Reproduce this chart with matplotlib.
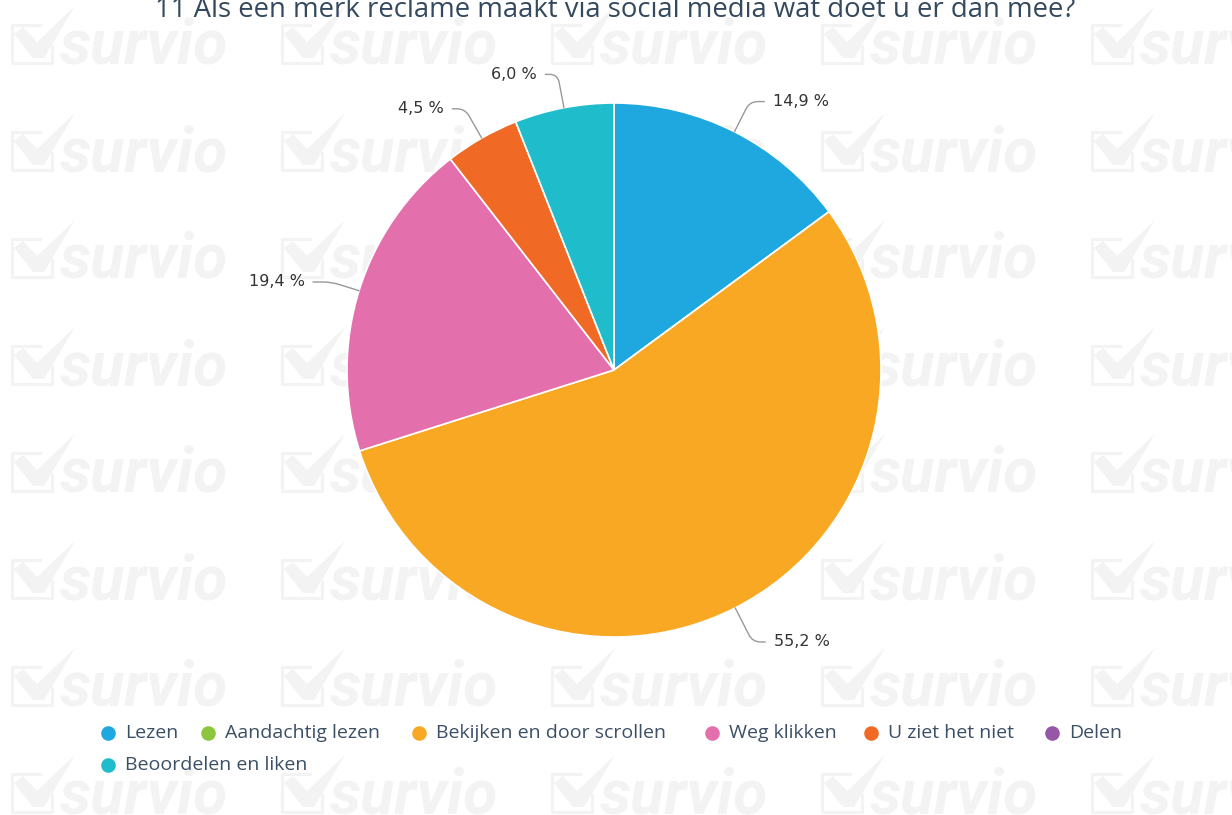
import matplotlib
matplotlib.use("Agg")
import numpy as np
import matplotlib.pyplot as plt
from matplotlib.patches import Polygon
from matplotlib.lines import Line2D

# survey answers, share of respondents in percent
categories = [
    "Lezen",
    "Aandachtig lezen",
    "Bekijken en door scrollen",
    "Weg klikken",
    "U ziet het niet",
    "Delen",
    "Beoordelen en liken",
]
shares = [14.9, 0.0, 55.2, 19.4, 4.5, 0.0, 6.0]
colors = ["#1fa8df", "#8cc63f", "#f9a823", "#e46fad", "#f06a25", "#9657a7", "#1fbccc"]
title = "11 Als een merk reclame maakt via social media wat doet u er dan mee?"

W, H = 1232, 815
fig = plt.figure(figsize=(W / 100, H / 100), dpi=100)
ax = fig.add_axes([0, 0, 1, 1])
ax.set_xlim(0, W)
ax.set_ylim(H, 0)  # pixel coords, y down
ax.set_aspect("equal")
ax.axis("off")

# background watermark tiles
wm = "#f3f3f3"
for row in range(8):
    yb = 64 + 107 * row
    for col in range(5):
        x0 = 10 + 270 * col
        ax.add_line(Line2D([x0 + 30, x0 + 2, x0 + 2, x0 + 42, x0 + 42],
                           [yb - 39, yb - 39, yb - 1, yb - 1, yb - 18],
                           color=wm, lw=2.2, zorder=0))
        ax.add_patch(Polygon([(x0 + 4, yb - 30), (x0 + 13, yb - 37), (x0 + 27, yb - 22),
                              (x0 + 65, yb - 58), (x0 + 34, yb - 6), (x0 + 23, yb - 6)],
                             closed=True, color=wm, lw=0, zorder=0))
        ax.text(x0 + 50, yb, "survio", fontfamily="Roboto", fontweight="bold",
                fontstyle="italic", fontsize=45, color=wm, va="baseline",
                ha="left", zorder=0)

# pie
cx, cy, r = 614, 370, 267
ax.pie(shares, colors=colors, center=(cx, cy), radius=r, startangle=-90,
       counterclock=True, frame=True,
       wedgeprops=dict(edgecolor="white", linewidth=1.2, zorder=2))
ax.set_xlim(0, W)
ax.set_ylim(H, 0)
ax.axis("off")

# percentage labels with leader lines
total = sum(shares)
cum = 0.0
for v in shares:
    if v <= 0:
        cum += v
        continue
    theta = np.deg2rad(-90 + 360 * (cum + v / 2) / total)
    cum += v
    ex, ey = cx + r * np.cos(theta), cy + r * np.sin(theta)
    lx, ly = cx + (r + 36) * np.cos(theta), cy + (r + 36) * np.sin(theta)
    right = np.cos(theta) >= 0
    tx = lx + (22 if right else -20)
    label = f"{v:.1f}".replace(".", ",") + " %"
    ax.annotate(label, xy=(ex, ey), xytext=(tx, ly + 2),
                ha="left" if right else "right", va="center",
                fontsize=11.5, color="#333333", fontfamily="DejaVu Sans",
                zorder=4,
                arrowprops=dict(arrowstyle="-", color="#999999", lw=1.0,
                                shrinkA=4, shrinkB=0,
                                connectionstyle="angle,angleA=0,angleB=%f,rad=8"
                                % (-np.rad2deg(theta))))

# title (runs off the top edge)
ax.text(615, 17, title, ha="center", va="baseline", fontsize=19.8,
        fontfamily="Open Sans", color="#34495e", zorder=4)

# legend, two rows
legend_pos = [(108, 733), (208, 733), (419, 733), (712, 733), (871, 733),
              (1052, 733), (108, 765)]
for (mx, my), name, c in zip(legend_pos, categories, colors):
    ax.plot(mx, my, "o", ms=10.5, color=c, mec="none", zorder=4)
    ax.text(mx + 17, my, name, ha="left", va="center", fontsize=14,
            fontfamily="Open Sans", color="#3b4f66", zorder=4)

fig.savefig("out.png", dpi=100, facecolor="white")
